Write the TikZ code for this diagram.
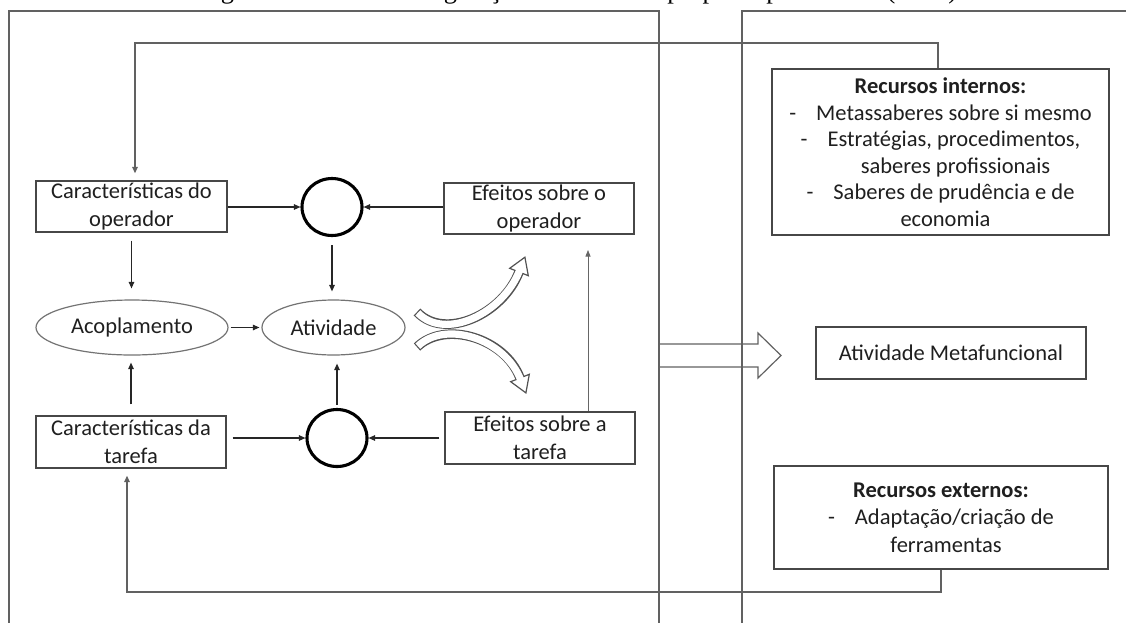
\documentclass[tikz,border=0pt]{standalone}
\usepackage{fontspec}
\setmainfont{Carlito}
\newfontfamily\capfont{Liberation Serif}
\usetikzlibrary{arrows.meta,shapes.geometric,calc}

\begin{document}
\begin{tikzpicture}[x=1pt,y=-1pt,
  txt/.style={font=\fontsize{22.5}{28}\selectfont, align=center, text=black!88},
  rbox/.style={txt, draw=black!72, line width=1.3, inner sep=0pt},
  oval/.style={txt, ellipse, draw=black!55, line width=1.2, inner sep=0pt, minimum height=55},
  ring/.style={ellipse, draw=black, line width=3.1, inner sep=0pt, minimum width=60, minimum height=57},
  arr/.style={draw=black!85, line width=1.1, -{Triangle[length=6.5pt,width=5.5pt]}},
  loop/.style={draw=black!62, line width=1.3, -{Triangle[length=6.5pt,width=5.5pt]}},
  faint/.style={draw=black!60, line width=0.7, -{Triangle[length=6.5pt,width=5pt]}},
  frame/.style={draw=black!62, line width=1.5},
  shaft/.style={draw=black!68, line width=9.6},
  shaftin/.style={draw=white, line width=7.2},
  tip/.style={fill=white, draw=black!68, line width=1.2, line join=miter},
  block/.style={draw=black!62, line width=1.2, line join=miter}]

\useasboundingbox (0,0) rectangle (1126,622);

% caption line, mostly above the page edge
\node[font=\capfont\fontsize{26.4}{30}\selectfont, anchor=base, inner sep=0pt] (cap) at (578,-1.6)
  {Figura 3. Modelo de regulação da atividade proposto por Falzon (2016)};

% the two framing panels
\draw[frame] (9,630) -- (9,11) -- (659,11) -- (659,630);
\draw[frame] (1135,11) -- (742,11) -- (742,630);

% left panel: regulation loop
\node[rbox, minimum width=191, minimum height=51] (opc) at (131.5,206.5) {Características do\\operador};
\node[rbox, minimum width=190, minimum height=52] (tac) at (131,442) {Características da\\tarefa};
\node[rbox, minimum width=190, minimum height=51] (efo) at (539,208.5) {Efeitos sobre o\\operador};
\node[rbox, minimum width=190, minimum height=52] (eft) at (540,438) {Efeitos sobre a\\tarefa};
\node[oval, minimum width=192] (aco) at (132,327.5) {Acoplamento};
\node[oval, minimum width=143] (ati) at (333.5,327.5) {Atividade};
\node[ring] (c1) at (332,207) {};
\node[ring] (c2) at (337,438) {};

\draw[arr] (opc.east|-c1) -- (c1.west);
\draw[arr] (efo.west|-c1) -- (c1.east);
\draw[arr, shorten <=8, shorten >=11] (opc.south) -- (opc.south|-aco.north);
\draw[arr, shorten <=8, shorten >=8] (c1.south) -- (c1.south|-ati.north);
\draw[arr, shorten <=2, shorten >=2] (aco.east) -- (ati.west);
\draw[arr, shorten <=11, shorten >=7] (tac.north) -- (tac.north|-aco.south);
\draw[arr, shorten <=3, shorten >=8] (c2.north) -- (c2.north|-ati.south);
\draw[arr, shorten <=6] (tac.east|-c2) -- (c2.west);
\draw[arr, shorten <=5] (eft.west|-c2) -- (c2.east);

\coordinate (up) at (588,250);
\draw[faint] (eft.north-|up) -- (up);

% curved hollow arrows leaving the activity
\draw[shaft] (417,312) .. controls (445,341) and (503,314) .. (519,272);
\draw[tip] (509.7,268.3) -- (524.9,257.2) -- (528.3,275.7) -- cycle;
\draw[shaftin, shorten <=1.2, shorten >=-2.5] (417,312) .. controls (445,341) and (503,314) .. (519,272);

\draw[shaft] (417,347) .. controls (445,320) and (505,338) .. (520,378);
\draw[tip] (529.3,374.3) -- (525.9,392.9) -- (510.7,381.7) -- cycle;
\draw[shaftin, shorten <=1.2, shorten >=-2.5] (417,347) .. controls (445,320) and (505,338) .. (520,378);

% right panel
\node[rbox, minimum width=337, minimum height=166, font=\fontsize{22.5}{26.5}\selectfont] (rin) at (940.5,152)
  {{\bfseries Recursos internos:}\\
   -\hspace{20pt}Metassaberes sobre si mesmo\\
   -\hspace{20pt}Estratégias, procedimentos,\\
   \hspace{30pt}saberes profissionais\\
   -\hspace{20pt}Saberes de prudência e de\\
   \hspace{10pt}economia};
\node[rbox, minimum width=270, minimum height=52] (amf) at (951,353) {Atividade Metafuncional};
\node[rbox, minimum width=334, minimum height=103, font=\fontsize{22.5}{27.5}\selectfont] (rex) at (941,517.5)
  {{\bfseries Recursos externos:}\\
   -\hspace{20pt}Adaptação/criação de\\
   \hspace{10pt}ferramentas};

% broad arrow towards the metafunctional activity
\draw[block] (659,344) -- (758,344) -- (758,333) -- (781,355.5) -- (758,378) -- (758,367) -- (659,367) -- cycle;

% feedback loops from the resources
\coordinate (t1) at (135,43);
\coordinate (t2) at (938,43);
\draw[loop, shorten >=7] (t2|-rin.north) -- (t2) -- (t1) -- (t1|-opc.north);
\coordinate (b1) at (127,592);
\coordinate (b2) at (941,592);
\draw[loop, shorten >=7] (b2|-rex.south) -- (b2) -- (b1) -- (b1|-tac.south);

\end{tikzpicture}
\end{document}
